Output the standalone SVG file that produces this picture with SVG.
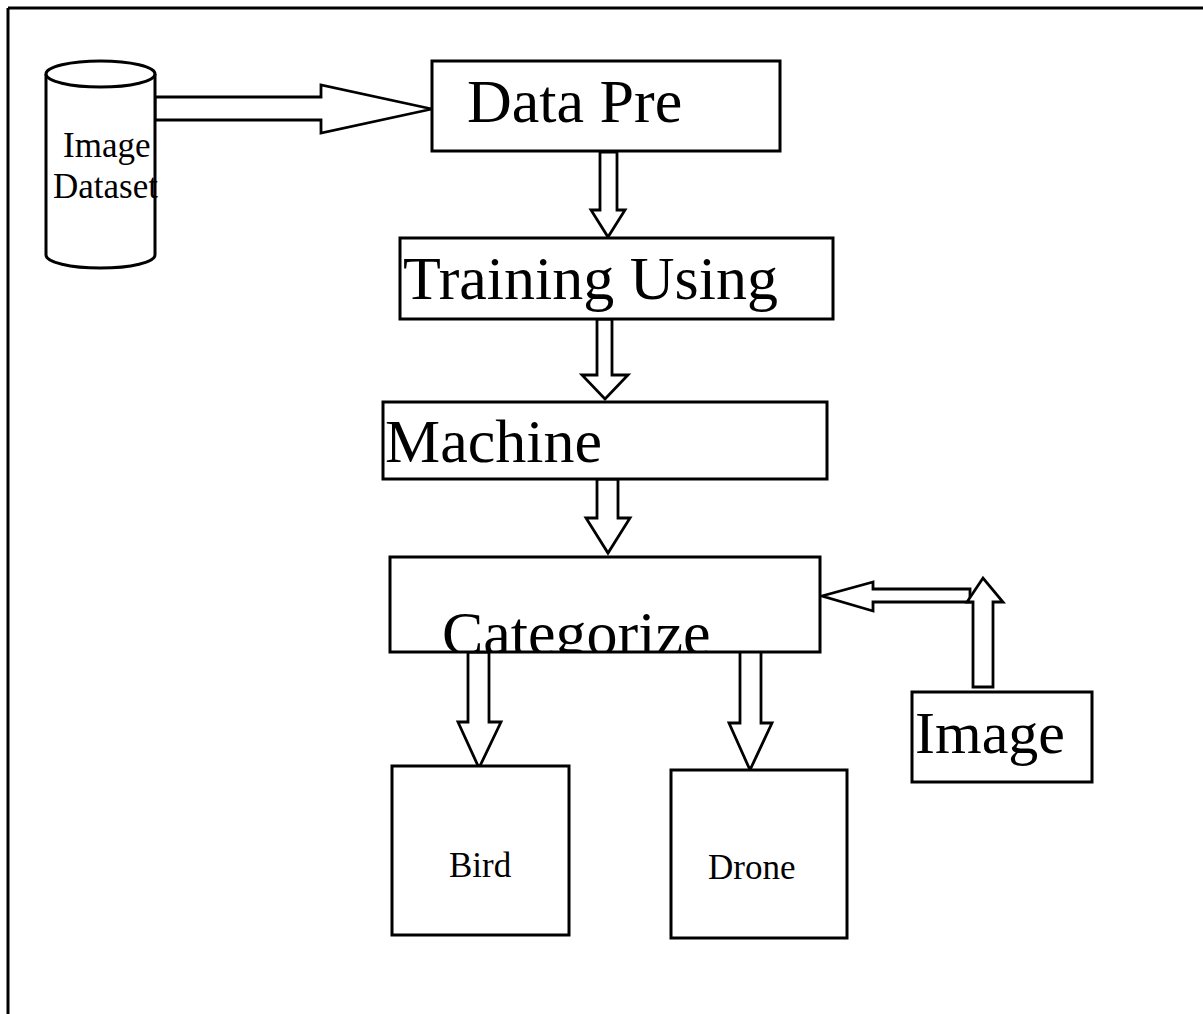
<svg xmlns="http://www.w3.org/2000/svg" width="1203" height="1014" viewBox="0 0 1203 1014">
<style>
.sh{fill:#fff;stroke:#000;stroke-width:3;stroke-linejoin:miter}
.ar{fill:#fff;stroke:#000;stroke-width:2.8;stroke-linejoin:miter}
.big{font-family:"Liberation Serif","Times New Roman",serif;font-size:62px;fill:#000}
.sm{font-family:"Liberation Serif","Times New Roman",serif;font-size:35px;fill:#000}
</style>
<defs>
<clipPath id="catclip"><rect x="390" y="557" width="430" height="95"/></clipPath>
</defs>
<rect width="1203" height="1014" fill="#fff"/>
<g id="frame" stroke="#000" stroke-width="3" fill="none">
<line x1="8" y1="8" x2="1203" y2="8"/>
<line x1="8" y1="8" x2="8" y2="1014"/>
</g>
<g id="connectors">
<polygon class="ar" points="155,97 321,97 321,85 432,109 321,133 321,120 155,120"/>
<polygon class="ar" points="600,152 617,152 617,210 625,210 608,237 591,210 600,210"/>
<polygon class="ar" points="597,319 612,319 612,375 628,375 605,399 582,375 597,375"/>
<polygon class="ar" points="597,479 618,479 618,518 630,518 608,553 586,518 597,518"/>
<polygon class="ar" points="468,652 489,652 489,722 501,722 479,768 458,722 468,722"/>
<polygon class="ar" points="740,649 761,649 761,723 772,723 750,770 729,723 740,723"/>
<polygon class="ar" points="970,589 873,589 873,582 822,596 873,611 873,602 970,602"/>
<polygon class="ar" points="973,687 993,687 993,602 1003,602 983,578 967,602 973,602"/>
</g>
<g id="dataset">
<path class="sh" d="M46,74 L46,255 A54.5,13 0 0 0 155,255 L155,74"/>
<ellipse class="sh" cx="100.5" cy="74" rx="54.5" ry="13"/>
<text class="sm" x="63" y="157">Image</text>
<text class="sm" x="53" y="198">Dataset</text>
</g>
<g id="datapre">
<rect class="sh" x="432" y="61" width="348" height="90"/>
<text class="big" x="467" y="122">Data Pre</text>
</g>
<g id="training">
<rect class="sh" x="400" y="238" width="433" height="81"/>
<text class="big" x="403" y="299">Training Using</text>
</g>
<g id="machine">
<rect class="sh" x="383" y="402" width="444" height="77"/>
<text class="big" x="385" y="462">Machine</text>
</g>
<g id="categorize">
<rect class="sh" x="390" y="557" width="430" height="95"/>
<text class="big" x="442" y="654" clip-path="url(#catclip)">Categorize</text>
</g>
<g id="image">
<rect class="sh" x="912" y="692" width="180" height="90"/>
<text class="big" x="915" y="753" style="font-size:60px">Image</text>
</g>
<g id="bird">
<rect class="sh" x="392" y="766" width="177" height="169"/>
<text class="sm" x="449" y="877">Bird</text>
</g>
<g id="drone">
<rect class="sh" x="671" y="770" width="176" height="168"/>
<text class="sm" x="708" y="879">Drone</text>
</g>
</svg>
